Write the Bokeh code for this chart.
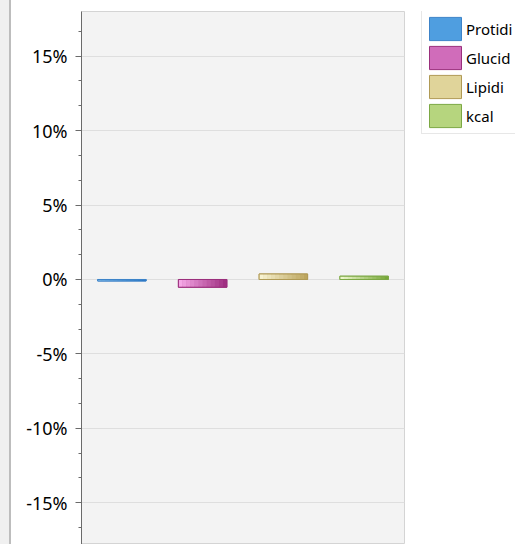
from bokeh.plotting import figure
from bokeh.models import (ColumnDataSource, FactorRange, Range1d, FixedTicker,
                          NumeralTickFormatter, Legend, LegendItem, Div)
from bokeh.transform import dodge
from bokeh.layouts import row
from bokeh.embed import file_html
from bokeh.resources import INLINE

# ---- data ----
categories = ["Protidi", "Glucid", "Lipidi", "kcal"]
values = [-0.0010, -0.0052, 0.0037, 0.0022]          # fractions (shown as %)
major_ticks = [-0.15, -0.10, -0.05, 0.0, 0.05, 0.10, 0.15]

# ---- style ----
light = ["#9ad0f5", "#f5a8e6", "#f7f2d0", "#eef7cc"]
dark = ["#1b6ec2", "#a02f82", "#bca55e", "#78a83a"]
mid = ["#4f9ee0", "#d06cba", "#e0d49a", "#b6d57e"]
edge = ["#3d83c8", "#9a2f7c", "#b09a55", "#7ca844"]
BAR_W = 0.6
N_SLICES = 12


def mix(c1, c2, t):
    a = [int(c1[i:i + 2], 16) for i in (1, 3, 5)]
    b = [int(c2[i:i + 2], 16) for i in (1, 3, 5)]
    return "#%02x%02x%02x" % tuple(round(a[j] + (b[j] - a[j]) * t) for j in range(3))


p = figure(width=398, height=544, x_range=FactorRange(*categories),
           y_range=Range1d(-0.178, 0.18), output_backend="svg",
           toolbar_location=None, min_border_left=70, min_border_right=5,
           min_border_top=11, min_border_bottom=0)
p.background_fill_color = "#f3f3f3"
p.border_fill_color = "white"
p.outline_line_color = "#d4d4d4"

base_src = ColumnDataSource(dict(cat=categories, val=values, fill=mid, line=edge))
p.vbar(x="cat", top="val", bottom=0, width=BAR_W, source=base_src,
       fill_color="fill", line_color="line", line_width=1)

for k in range(N_SLICES):
    t = k / (N_SLICES - 1)
    off = -BAR_W / 2 + (k + 0.5) * BAR_W / N_SLICES
    src = ColumnDataSource(dict(cat=categories, val=values,
                                fill=[mix(light[i], dark[i], t) for i in range(4)]))
    p.vbar(x=dodge("cat", off, range=p.x_range), top="val", bottom=0,
           width=BAR_W / N_SLICES * 1.05, source=src, fill_color="fill",
           line_color=None)

p.vbar(x="cat", top="val", bottom=0, width=BAR_W, source=base_src,
       fill_color=None, line_color="line", line_width=1)

# axes
p.xaxis.visible = False
minor = [i / 60 for i in range(-11, 12) if i % 3 != 0]
p.yaxis.ticker = FixedTicker(ticks=major_ticks, minor_ticks=minor)
p.yaxis.formatter = NumeralTickFormatter(format="0%")
p.yaxis.axis_line_color = "#6a6a6a"
p.yaxis.major_tick_line_color = "#6a6a6a"
p.yaxis.minor_tick_line_color = "#6a6a6a"
p.yaxis.major_tick_out = 6
p.yaxis.major_tick_in = 0
p.yaxis.minor_tick_out = 3
p.yaxis.minor_tick_in = 0
p.yaxis.major_label_standoff = 8
p.yaxis.major_label_text_font = "Noto Sans"
p.yaxis.major_label_text_font_size = "18px"
p.yaxis.major_label_text_color = "#000000"

p.xgrid.grid_line_color = None
p.ygrid.grid_line_color = "#dedede"
p.ygrid.grid_line_width = 1

# ---- legend panel (separate figure, glyphs kept outside its y range) ----
q = figure(width=106, height=544, x_range=FactorRange(*categories),
           y_range=Range1d(10, 11), output_backend="svg", toolbar_location=None,
           min_border=0, min_border_left=0, min_border_right=0,
           min_border_top=0, min_border_bottom=0)
q.axis.visible = False
q.grid.visible = False
q.outline_line_color = None
q.background_fill_color = "white"
q.border_fill_color = "white"
leg_r = q.vbar(x="cat", top="val", bottom=0, width=BAR_W, source=base_src,
               fill_color="fill", line_color="line", line_width=1)

legend = Legend(items=[LegendItem(label=categories[i], renderers=[leg_r], index=i)
                       for i in range(4)],
                location=(12, 410))
legend.label_text_font = "Noto Sans"
legend.label_text_font_size = "15px"
legend.label_text_color = "#000000"
legend.glyph_width = 40
legend.glyph_height = 29
legend.label_height = 29
legend.label_standoff = 1
legend.spacing = 0
legend.padding = 3
legend.margin = 0
legend.border_line_color = "#cfcfcf"
legend.background_fill_color = "white"
legend.background_fill_alpha = 1
q.add_layout(legend, "center")

strip = Div(text="", width=11, height=544, margin=0,
            styles={"background-color": "#f0f0f0",
                    "border-right": "2px solid #bdbdbd",
                    "box-sizing": "border-box"})

layout = row(strip, p, q, spacing=0)
open("out.html", "w").write(file_html(layout, INLINE))
